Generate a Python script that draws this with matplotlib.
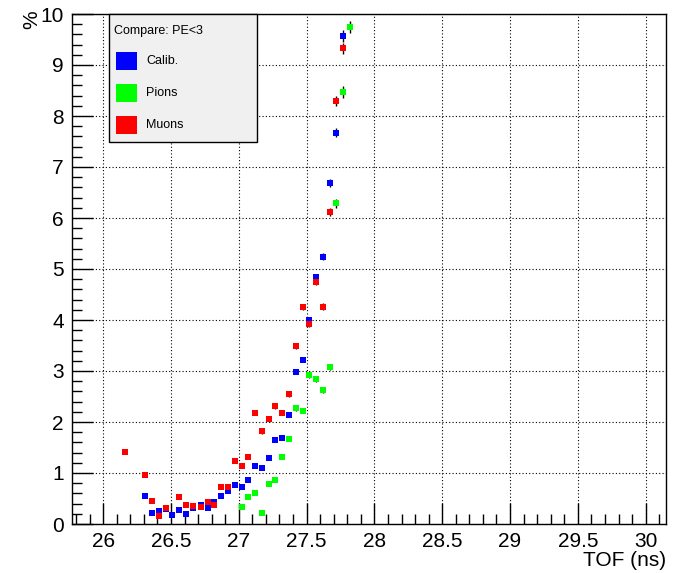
import matplotlib
matplotlib.use("Agg")
import matplotlib.pyplot as plt
from matplotlib.patches import Rectangle
from matplotlib.ticker import MultipleLocator

plt.rcParams['font.family'] = ['Liberation Sans', 'DejaVu Sans']

# Calib. (blue)
calib_x = [26.31, 26.36, 26.41, 26.46, 26.51, 26.56, 26.61, 26.66, 26.72, 26.77,
           26.82, 26.87, 26.92, 26.97, 27.02, 27.07, 27.12, 27.17, 27.22, 27.27,
           27.32, 27.37, 27.42, 27.47, 27.52, 27.57, 27.62, 27.67, 27.72, 27.77]
calib_y = [0.54, 0.21, 0.26, 0.30, 0.17, 0.28, 0.19, 0.32, 0.38, 0.32,
           0.43, 0.54, 0.64, 0.77, 0.72, 0.87, 1.13, 1.10, 1.29, 1.65,
           1.69, 2.14, 2.99, 3.22, 4.00, 4.84, 5.24, 6.68, 7.67, 9.57]
calib_err = [0.03, 0.03, 0.03, 0.03, 0.03, 0.03, 0.03, 0.03, 0.03, 0.03,
             0.03, 0.03, 0.03, 0.03, 0.03, 0.03, 0.04, 0.04, 0.04, 0.04,
             0.04, 0.04, 0.05, 0.05, 0.06, 0.07, 0.07, 0.08, 0.09, 0.11]

# Pions (green)
pions_x = [27.02, 27.07, 27.12, 27.17, 27.22, 27.27, 27.32, 27.37, 27.42, 27.47,
           27.52, 27.57, 27.62, 27.67, 27.72, 27.77, 27.82]
pions_y = [0.34, 0.53, 0.61, 0.21, 0.79, 0.87, 1.31, 1.67, 2.27, 2.22,
           2.92, 2.84, 2.63, 3.08, 6.29, 8.47, 9.74]
pions_err = [0.03, 0.03, 0.03, 0.03, 0.03, 0.03, 0.04, 0.04, 0.05, 0.05,
             0.06, 0.06, 0.06, 0.06, 0.09, 0.11, 0.12]

# Muons (red)
muons_x = [26.16, 26.31, 26.36, 26.41, 26.46, 26.56, 26.61, 26.66, 26.72, 26.77,
           26.82, 26.87, 26.92, 26.97, 27.02, 27.07, 27.12, 27.17, 27.22, 27.27,
           27.32, 27.37, 27.42, 27.47, 27.52, 27.57, 27.62, 27.67, 27.72, 27.77]
muons_y = [1.42, 0.96, 0.45, 0.15, 0.31, 0.53, 0.38, 0.36, 0.34, 0.43,
           0.38, 0.73, 0.72, 1.23, 1.14, 1.32, 2.18, 1.82, 2.05, 2.31,
           2.18, 2.54, 3.49, 4.26, 3.92, 4.75, 4.26, 6.11, 8.29, 9.33]
muons_err = [0.03, 0.03, 0.03, 0.03, 0.03, 0.03, 0.03, 0.03, 0.03, 0.03,
             0.03, 0.03, 0.03, 0.04, 0.04, 0.04, 0.05, 0.05, 0.05, 0.05,
             0.05, 0.05, 0.06, 0.06, 0.06, 0.07, 0.07, 0.08, 0.10, 0.11]

series = [("Calib.", calib_x, calib_y, calib_err, "#0000ff"),
          ("Pions", pions_x, pions_y, pions_err, "#00ff00"),
          ("Muons", muons_x, muons_y, muons_err, "#ff0000")]

W, H = 677, 573
fig = plt.figure(figsize=(W / 100, H / 100), dpi=100)
ax = fig.add_axes([72 / W, (H - 524) / H, (666 - 72) / W, (524 - 14) / H])

for name, x, y, e, c in series:
    ax.errorbar(x, y, yerr=e, fmt='s', color=c, ms=4, mew=0,
                ecolor='black', elinewidth=1, capsize=3.5, capthick=1.2, zorder=3)

ax.set_xlim(25.77, 30.15)
ax.set_ylim(0, 10)
ax.xaxis.set_major_locator(MultipleLocator(0.5))
ax.xaxis.set_minor_locator(MultipleLocator(0.1))
ax.yaxis.set_major_locator(MultipleLocator(1))
ax.yaxis.set_minor_locator(MultipleLocator(0.2))
ax.tick_params(which='both', direction='in', top=False, right=False,
               labelsize=15, width=1)
ax.tick_params(which='major', length=15, pad=6)
ax.tick_params(which='minor', length=7.5)
ax.xaxis.set_major_formatter(plt.FuncFormatter(lambda v, p: f"{v:g}"))
ax.grid(True, which='major', color='black', linestyle=(0, (1, 2)), linewidth=0.8)
for s in ax.spines.values():
    s.set_linewidth(1)

fig.text(666 / W, 1 - 561 / H, "TOF (ns)", ha='right', va='center', fontsize=15)
fig.text(32 / W, 1 - 20 / H, "%", ha='center', va='center', rotation=90, fontsize=15)

# legend box drawn in figure pixels
def px(x0, y0):
    return x0 / W, 1 - y0 / H

lx0, ly0, lx1, ly1 = 109, 14, 257, 142
fig.patches.append(Rectangle(px(lx0, ly1), (lx1 - lx0) / W, (ly1 - ly0) / H,
                             transform=fig.transFigure, facecolor='#f0f0f0',
                             edgecolor='black', linewidth=1, zorder=5))
fig.text(*px(114, 31), "Compare: PE<3", fontsize=9, va='center', ha='left', zorder=6)
for i, (name, x, y, e, c) in enumerate(series):
    yc = 61 + i * 32
    fig.patches.append(Rectangle(px(116, yc + 8.5), 21 / W, 17 / H,
                                 transform=fig.transFigure, facecolor=c,
                                 edgecolor='none', zorder=6))
    fig.text(*px(146, yc), name, fontsize=9, va='center', ha='left', zorder=6)

fig.savefig("out.png", dpi=100)
